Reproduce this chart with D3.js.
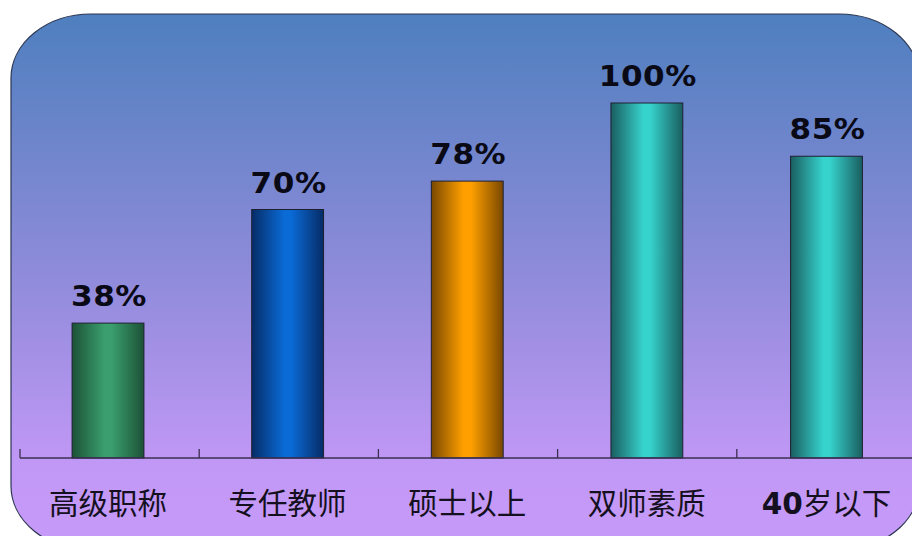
<!DOCTYPE html>
<html><head><meta charset="utf-8">
<script src="https://cdn.jsdelivr.net/npm/d3@7"></script>
<style>html,body{margin:0;padding:0;background:#fff;}svg{display:block;}</style>
</head><body>
<svg id="chart" width="912" height="536"></svg>
<script>
const categories = ["高级职称", "专任教师", "硕士以上", "双师素质", "40岁以下"];
const values = [38, 70, 78, 100, 85];
const valueLabels = ["38%", "70%", "78%", "100%", "85%"];
const barColors = [
  {edge: "#1c5236", mid: "#3a9e6e"},
  {edge: "#062c66", mid: "#0a6ad6"},
  {edge: "#7a4800", mid: "#ffa000"},
  {edge: "#1a5e60", mid: "#36d2cc"},
  {edge: "#1a5e60", mid: "#36d2cc"}
];

const svg = d3.select("#chart");
const defs = svg.append("defs");

const bg = defs.append("linearGradient").attr("id", "bg").attr("x1", 0).attr("y1", 0).attr("x2", 0).attr("y2", 1);
bg.append("stop").attr("offset", "0%").attr("stop-color", "#4e7fbe");
bg.append("stop").attr("offset", "45%").attr("stop-color", "#8a8ad8");
bg.append("stop").attr("offset", "85%").attr("stop-color", "#c298f6");
bg.append("stop").attr("offset", "100%").attr("stop-color", "#c69af8");

svg.append("rect")
  .attr("x", 11).attr("y", 14).attr("width", 908).attr("height", 536)
  .attr("rx", 80).attr("ry", 64)
  .attr("fill", "url(#bg)").attr("stroke", "#2a3550").attr("stroke-width", 1.2);

barColors.forEach((c, i) => {
  const g = defs.append("linearGradient").attr("id", "bar" + i).attr("x1", 0).attr("y1", 0).attr("x2", 1).attr("y2", 0);
  g.append("stop").attr("offset", "0%").attr("stop-color", c.edge);
  g.append("stop").attr("offset", "45%").attr("stop-color", c.mid);
  g.append("stop").attr("offset", "55%").attr("stop-color", c.mid);
  g.append("stop").attr("offset", "100%").attr("stop-color", c.edge);
});

const x = d3.scaleBand().domain(categories).range([20, 914.5]).paddingInner(0.6).paddingOuter(0.29);
const y = d3.scaleLinear().domain([0, 100]).range([458, 103]);

// bars
svg.selectAll(".bar").data(values).join("rect")
  .attr("class", "bar")
  .attr("x", (d, i) => x(categories[i]))
  .attr("y", d => y(d))
  .attr("width", x.bandwidth())
  .attr("height", d => y(0) - y(d))
  .attr("fill", (d, i) => "url(#bar" + i + ")")
  .attr("stroke", "#1e2030").attr("stroke-width", 1);

// axis
const xAxisScale = d3.scaleLinear().domain([0, categories.length]).range([20, 916]);
const axisG = svg.append("g").attr("transform", "translate(0,458)");
axisG.append("line").attr("x1", 20).attr("x2", 912).attr("y1", 0).attr("y2", 0)
  .attr("stroke", "#3a3050").attr("stroke-width", 1.3);
axisG.selectAll(".tick").data(d3.range(categories.length)).join("line")
  .attr("x1", d => xAxisScale(d)).attr("x2", d => xAxisScale(d))
  .attr("y1", 0).attr("y2", -9)
  .attr("stroke", "#3a3050").attr("stroke-width", 1.3);

// value labels
svg.selectAll(".vlabel").data(values).join("text")
  .attr("class", "vlabel")
  .attr("transform", (d, i) => `translate(${x(categories[i]) + x.bandwidth() / 2 + 1},${y(d) - 17}) scale(1.13,1)`)
  .attr("text-anchor", "middle")
  .attr("font-family", "'DejaVu Sans', Verdana, sans-serif")
  .attr("font-weight", "bold")
  .attr("font-size", 27.5)
  .attr("letter-spacing", 0.5)
  .attr("fill", "#0a0a16")
  .text((d, i) => valueLabels[i]);

// category labels
const cl = svg.selectAll(".clabel").data(categories).join("text")
  .attr("class", "clabel")
  .attr("x", d => x(d) + x.bandwidth() / 2)
  .attr("y", 514)
  .attr("text-anchor", "middle")
  .attr("font-family", "'Noto Sans CJK SC', sans-serif")
  .attr("font-size", 29.5)
  .attr("fill", "#141020");
cl.each(function(d) {
  const t = d3.select(this);
  const m = d.match(/^(\d+)(.*)$/);
  if (m) {
    t.append("tspan").attr("font-family", "'DejaVu Sans', sans-serif").attr("font-weight", "bold").text(m[1]);
    t.append("tspan").text(m[2]);
  } else {
    t.text(d);
  }
});
</script>
</body></html>
